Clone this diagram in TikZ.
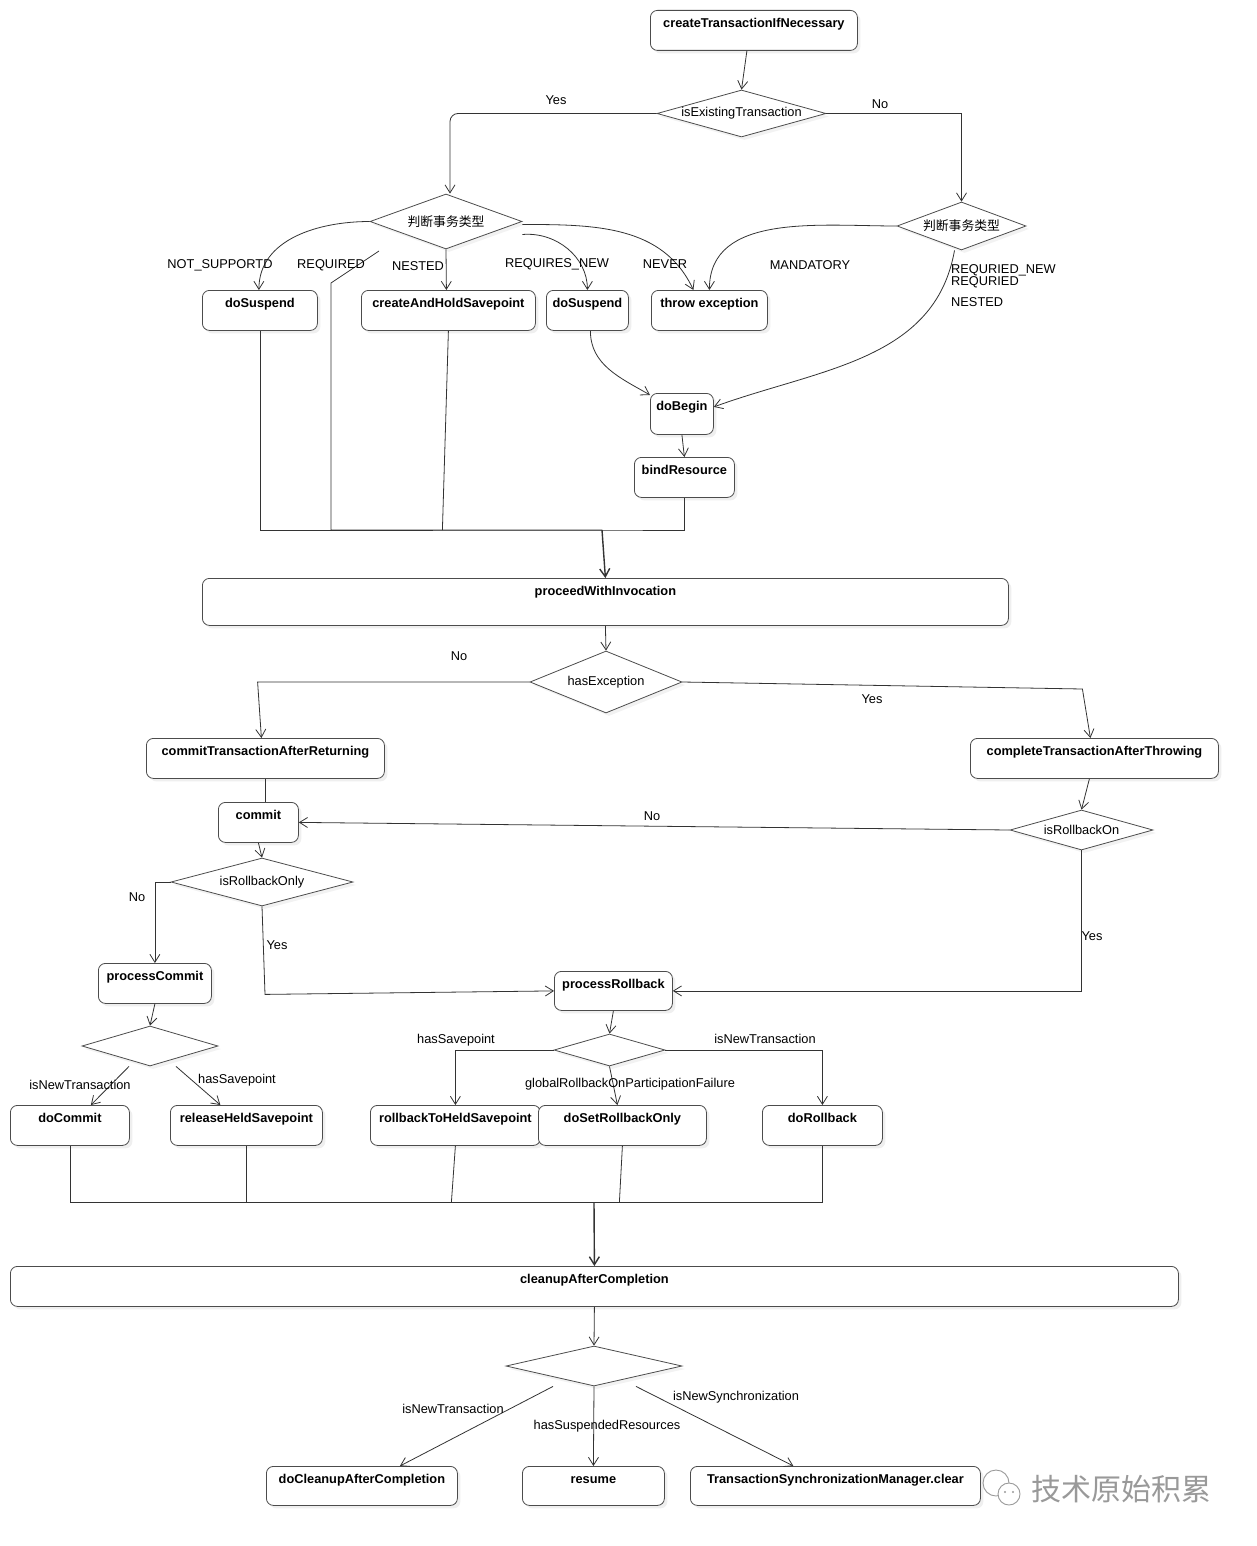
\documentclass[tikz,border=0pt]{standalone}
\usepackage{fontspec}
\setmainfont{Liberation Sans}
\newfontfamily\cjk{Noto Sans CJK SC}
\usepackage{tikz}
\usetikzlibrary{shapes.geometric, shadows, arrows.meta}
\tikzstyle{line} = [draw=black!80, line width=0.8pt, -{Straight Barb[length=8pt,width=10pt]}]
\tikzstyle{link} = [draw=black!80, line width=0.8pt]
\tikzstyle{block}=[draw=black!70, line width=0.8pt, rectangle, rounded corners=7pt, fill=white, anchor=north west, font=\fontsize{12.8}{15}\selectfont\bfseries, inner xsep=0pt, inner ysep=4pt, text height=13pt, text depth=19pt, drop shadow={shadow xshift=3pt, shadow yshift=-3pt, opacity=0.12}]
\tikzstyle{decision}=[draw=black!70, line width=0.8pt, diamond, inner sep=0pt, fill=white, font=\fontsize{12.8}{15}\selectfont, drop shadow={shadow xshift=3pt, shadow yshift=-3pt, opacity=0.10}]
\tikzstyle{lbl}=[inner sep=1pt, font=\fontsize{12.8}{15}\selectfont]
\newcommand{\dlabel}[1]{\makebox[0pt]{#1}}

\begin{document}
\begin{tikzpicture}[x=1pt, y=-1pt]
	\path[use as bounding box, fill=white] (0,0) rectangle (1257,1546);
	% boxes and decisions
	\node[block, minimum width=207pt] (cti) at (650,10) {createTransactionIfNecessary};
	\node[decision, minimum width=169pt, minimum height=47pt] (ise) at (741.5,113.5) {\dlabel{isExistingTransaction}};
	\node[decision, minimum width=152pt, minimum height=55pt] (jdgl) at (446,221.5) {\dlabel{\cjk 判断事务类型}};
	\node[decision, minimum width=129pt, minimum height=48pt] (jdgr) at (961.5,226) {\dlabel{\cjk 判断事务类型}};
	\node[block, minimum width=115pt] (susp1) at (202,290) {doSuspend};
	\node[block, minimum width=174pt] (hold) at (361,290) {createAndHoldSavepoint};
	\node[block, minimum width=82pt] (susp2) at (546,290) {doSuspend};
	\node[block, minimum width=116pt] (throw) at (651,290) {throw exception};
	\node[block, minimum width=63pt, text depth=20pt] (begin) at (650,393) {doBegin};
	\node[block, minimum width=100pt] (bind) at (634,457) {bindResource};
	\node[block, minimum width=806pt, text depth=26pt] (invoke) at (202,578) {proceedWithInvocation};
	\node[decision, minimum width=152pt, minimum height=62pt] (hasex) at (606,682) {\dlabel{hasException}};
	\node[block, minimum width=238pt] (commitret) at (146,738) {commitTransactionAfterReturning};
	\node[block, minimum width=248pt] (completethr) at (970,738) {completeTransactionAfterThrowing};
	\node[block, minimum width=80pt] (commit) at (218,802) {commit};
	\node[decision, minimum width=182pt, minimum height=48pt] (rbonly) at (262,882) {\dlabel{isRollbackOnly}};
	\node[decision, minimum width=143pt, minimum height=40pt] (rbon) at (1081.5,830) {\dlabel{isRollbackOn}};
	\node[block, minimum width=113pt] (pcommit) at (98,963) {processCommit};
	\node[block, minimum width=118pt, text depth=18pt] (prollback) at (554,971) {processRollback};
	\node[decision, minimum width=136pt, minimum height=40pt] (dcommit) at (150,1046) {};
	\node[decision, minimum width=111pt, minimum height=32pt] (drollback) at (609.5,1050) {};
	\node[block, minimum width=119pt] (docommit) at (10,1105) {doCommit};
	\node[block, minimum width=152pt] (release) at (170,1105) {releaseHeldSavepoint};
	\node[block, minimum width=170pt] (toheld) at (370,1105) {rollbackToHeldSavepoint};
	\node[block, minimum width=168pt] (setrb) at (538,1105) {doSetRollbackOnly};
	\node[block, minimum width=120pt] (dorb) at (762,1105) {doRollback};
	\node[block, minimum width=1168pt] (cleanup) at (10,1266) {cleanupAfterCompletion};
	\node[decision, minimum width=176pt, minimum height=40pt] (dclean) at (594,1366) {};
	\node[block, minimum width=191pt, text depth=18pt] (docleanup) at (266,1466) {doCleanupAfterCompletion};
	\node[block, minimum width=142pt, text depth=18pt] (resume) at (522,1466) {resume};
	\node[block, minimum width=290pt, text depth=18pt] (syncclear) at (690,1466) {TransactionSynchronizationManager.clear};
	% connectors
	\coordinate (req) at (379,251);
	\coordinate (busa) at (602,530);
	\coordinate (busb) at (594,1202);
	\draw[line] ([xshift=-7pt]cti.south) -- (ise.north);
	\draw[line, rounded corners=8pt] (ise.west) -| ([xshift=4pt]jdgl.north);
	\draw[line] (ise.east) -| (jdgr.north);
	\draw[line] (jdgl.west) to[out=180,in=90] ([xshift=-1pt]susp1.north);
	\draw[link] (req) -- ++(-48,32) |- (busa);
	\draw[line] (jdgl.south) -- ([xshift=-2pt]hold.north);
	\draw[line] ([yshift=-13pt]jdgl.east) to[out=5,in=90] (susp2.north);
	\draw[line] ([yshift=-3pt]jdgl.east) to[out=0,in=115] ([xshift=-16pt]throw.north);
	\draw[line] (jdgr.west) to[out=180,in=90] (throw.north);
	\draw[line] ([xshift=-7pt]jdgr.south) to[out=-100,in=20] ([yshift=7pt]begin.east);
	\draw[line] ([xshift=3pt]susp2.south) to[out=-90,in=150] ([yshift=-2pt]begin.north west);
	\draw[line] (begin.south) -- (bind.north);
	\draw[link] (susp1.south) |- (busa) -| (bind.south);
	\draw[link] (hold.south) -- ([xshift=-6pt]hold.south |- busa);
	\draw[line, line width=1.4pt] (busa) -- (invoke.north);
	\draw[line] (invoke.south) -- (hasex.north);
	\draw[line] (hasex.west) -- ++(-272,0) -- ([xshift=-4pt]commitret.north);
	\draw[line] (hasex.east) -- ++(400,7) -- ([xshift=-4pt]completethr.north);
	\draw[link] (commitret.south) -- (commitret.south |- commit.north);
	\draw[line] (commit.south) -- (rbonly.north);
	\draw[line] ([xshift=-5pt]completethr.south) -- (rbon.north);
	\draw[line] (rbon.west) -- (commit.east);
	\draw[line] (rbon.south) |- (prollback.east);
	\draw[line] (rbonly.west) -| (pcommit.north);
	\draw[line] (rbonly.south) -- ++(3,88) -- (prollback.west);
	\draw[line] (pcommit.south) -- (dcommit.north);
	\draw[line] ([xshift=-21pt]dcommit.south) -- ([xshift=21pt]docommit.north);
	\draw[line] ([xshift=26pt]dcommit.south) -- ([xshift=-26pt]release.north);
	\draw[line] (prollback.south) -- (drollback.north);
	\draw[line] (drollback.west) -| (toheld.north);
	\draw[line] (drollback.south) -- ([xshift=-5pt]setrb.north);
	\draw[line] (drollback.east) -| (dorb.north);
	\draw[link] (docommit.south) |- (busb) -| (dorb.south);
	\draw[link] (release.south) -- (release.south |- busb);
	\draw[link] (toheld.south) -- ([xshift=-4pt]toheld.south |- busb);
	\draw[link] (setrb.south) -- ([xshift=-3pt]setrb.south |- busb);
	\draw[line, line width=1.4pt] (busb) -- (cleanup.north);
	\draw[line] (cleanup.south) -- (dclean.north);
	\draw[line] ([xshift=-41pt]dclean.south) -- ([xshift=38pt]docleanup.north);
	\draw[line] (dclean.south) -- (resume.north);
	\draw[line] ([xshift=42pt]dclean.south) -- ([xshift=-42pt]syncclear.north);
	% labels
	\node[lbl] (yes1) at (556,100) {Yes};
	\node[lbl] (no1) at (880,104) {No};
	\node[lbl] (notsup) at (220,265) {NOT\_SUPPORTD};
	\node[lbl] (required) at (331,265) {REQUIRED};
	\node[lbl] (nested) at (418,266) {NESTED};
	\node[lbl] (reqnew) at (557,264) {REQUIRES\_NEW};
	\node[lbl] (never) at (665,264) {NEVER};
	\node[lbl] (mandatory) at (810,265) {MANDATORY};
	\node[lbl, anchor=west] (rnew) at (950,270) {REQURIED\_NEW};
	\node[lbl, anchor=west] (rreq) at (950,282) {REQURIED};
	\node[lbl, anchor=west] (rnested) at (950,302) {NESTED};
	\node[lbl] (no2) at (459,656) {No};
	\node[lbl] (yes2) at (872,699) {Yes};
	\node[lbl] (no3) at (652,816) {No};
	\node[lbl] (no4) at (137,897) {No};
	\node[lbl] (yes3) at (277,945) {Yes};
	\node[lbl] (yes4) at (1092,936) {Yes};
	\node[lbl] (newtx1) at (80,1085) {isNewTransaction};
	\node[lbl] (savept1) at (237,1080) {hasSavepoint};
	\node[lbl] (savept2) at (456,1040) {hasSavepoint};
	\node[lbl] (global) at (630,1084) {globalRollbackOnParticipationFailure};
	\node[lbl] (newtx2) at (765,1039) {isNewTransaction};
	\node[lbl] (newtx3) at (453,1409) {isNewTransaction};
	\node[lbl] (suspres) at (607,1426) {hasSuspendedResources};
	\node[lbl] (newsync) at (736,1397) {isNewSynchronization};
	% watermark
	\draw[black!40, line width=0.9pt, fill=white] (996,1483) circle (13pt);
	\draw[black!40, line width=0.9pt, fill=white] (1009,1494) circle (11pt);
	\fill[black!40] (1005,1492) circle (1.2pt) (1013,1492) circle (1.2pt);
	\node[text=black!40, font=\cjk\fontsize{30}{32}\selectfont, inner sep=0pt] (mark) at (1121,1489) {技术原始积累};
\end{tikzpicture}
\end{document}
